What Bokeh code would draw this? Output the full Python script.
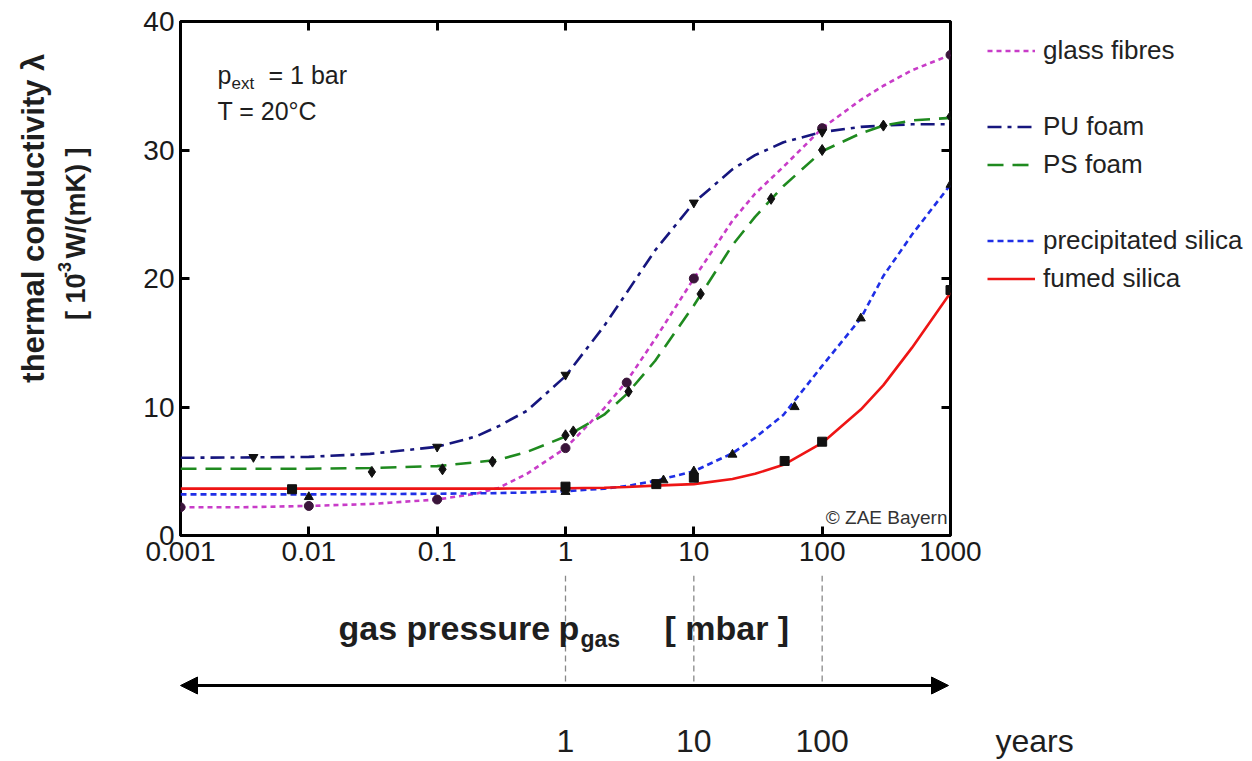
import math
from bokeh.plotting import figure
from bokeh.layouts import row, column
from bokeh.models import (Range1d, FixedTicker, NumeralTickFormatter, LogAxis, LinearAxis,
                          Label, Arrow, NormalHead, Legend, LegendItem)
from bokeh.core.properties import value
from bokeh.embed import file_html
from bokeh.resources import INLINE

# ---------------- data ----------------
pressure_grid = [0.001, 0.003, 0.01, 0.03, 0.1, 0.2, 0.3, 0.5, 1, 2, 3, 5, 10,
                 20, 30, 50, 100, 200, 300, 500, 1000]

glass_curve = [2.2, 2.2, 2.3, 2.45, 2.8, 3.25, 3.7, 4.8, 6.8, 9.9, 12.0, 15.3, 20.0,
               24.5, 26.6, 28.7, 31.7, 33.9, 35.0, 36.2, 37.4]
pu_curve = [6.05, 6.07, 6.12, 6.35, 6.9, 7.7, 8.5, 9.7, 12.4, 16.3, 18.9, 22.2, 25.9,
            28.5, 29.6, 30.6, 31.4, 31.8, 31.9, 32.0, 32.0]
ps_curve = [5.2, 5.2, 5.2, 5.25, 5.4, 5.7, 5.9, 6.5, 7.7, 9.4, 11.0, 13.6, 17.9,
            22.6, 24.8, 27.2, 29.9, 31.3, 31.9, 32.3, 32.5]
precip_curve = [3.2, 3.2, 3.2, 3.22, 3.25, 3.28, 3.3, 3.35, 3.45, 3.65, 3.85, 4.25, 5.0,
                6.4, 7.6, 9.4, 13.2, 16.9, 20.2, 23.4, 27.3]
fumed_curve = [3.65, 3.65, 3.65, 3.65, 3.65, 3.65, 3.65, 3.66, 3.68, 3.72, 3.78, 3.88, 4.0,
               4.4, 4.8, 5.5, 7.2, 9.8, 11.7, 14.6, 18.9]

glass_pts_x = [0.001, 0.01, 0.1, 1, 3, 10, 100, 1000]
glass_pts_y = [2.2, 2.3, 2.8, 6.8, 11.9, 20.0, 31.7, 37.4]
pu_pts_x = [0.0037, 0.1, 1, 10, 100]
pu_pts_y = [6.1, 6.9, 12.5, 25.9, 31.4]
ps_pts_x = [0.031, 0.11, 0.27, 1.0, 1.15, 3.1, 11.3, 40, 100, 300, 1000]
ps_pts_y = [4.95, 5.15, 5.75, 7.8, 8.1, 11.2, 18.8, 26.2, 30.0, 31.9, 32.6]
precip_pts_x = [0.01, 1, 5.8, 10, 20, 61, 200, 1000]
precip_pts_y = [3.0, 3.4, 4.3, 5.0, 6.3, 10.0, 16.9, 27.3]
fumed_pts_x = [0.0074, 1, 5.1, 10, 51, 100, 1000]
fumed_pts_y = [3.6, 3.8, 4.0, 4.5, 5.8, 7.3, 19.1]

series_names = ["glass fibres", "PU foam", "PS foam", "precipitated silica", "fumed silica"]
x_ticks = [0.001, 0.01, 0.1, 1, 10, 100, 1000]
y_ticks = [0, 10, 20, 30, 40]
year_x = [1, 10, 100]
year_labels = ["1", "10", "100"]

# ---------------- layout geometry (page pixels) ----------------
W, H = 1252, 761
FL, FR, FT, FB = 180, 950, 21, 535          # main frame
LEFT_W = 110                                 # strip holding the y title
TOP_H = 575                                  # height of the upper row
RIGHT_X0 = 985                               # where the legend strip starts
XMIN, XMAX, YMIN, YMAX = 1e-3, 1e3, 0, 40
LX0, LX1 = math.log10(XMIN), math.log10(XMAX)
BASE_K = 0.3   # correction: bokeh puts the alphabetic baseline ~0.3 em lower


def dx(px):
    return 10 ** (LX0 + (px - FL) / (FR - FL) * (LX1 - LX0))


FONT = "Liberation Sans"
TXT = "#1e1e1e"

c_glass = "#c83cc8"
c_pu = "#16167e"
c_ps = "#1f8a1f"
c_prec = "#1f2fe6"
c_fumed = "#ee1515"
styles = [
    dict(line_color=c_glass, line_width=2.6, line_dash="5 4"),
    dict(line_color=c_pu, line_width=2.6, line_dash="14 6 4 6"),
    dict(line_color=c_ps, line_width=2.6, line_dash="16 9"),
    dict(line_color=c_prec, line_width=2.6, line_dash="6 4"),
    dict(line_color=c_fumed, line_width=2.6),
]


def bare(fig):
    fig.background_fill_color = "white"
    fig.border_fill_color = "white"
    fig.outline_line_color = None
    fig.xgrid.visible = False
    fig.ygrid.visible = False
    fig.min_border = 0
    return fig


# ---------------- main chart ----------------
main_w = RIGHT_X0 - LEFT_W
p = figure(width=main_w, height=TOP_H, x_axis_type="log",
           x_range=Range1d(XMIN, XMAX), y_range=Range1d(YMIN, YMAX),
           output_backend="svg", toolbar_location=None,
           min_border_left=FL - LEFT_W, min_border_right=RIGHT_X0 - FR,
           min_border_top=FT, min_border_bottom=TOP_H - FB)
p.background_fill_color = "white"
p.border_fill_color = "white"
p.outline_line_color = "black"
p.outline_line_width = 3
p.xgrid.visible = False
p.ygrid.visible = False


def style_axis(ax, show_labels=True):
    ax.axis_line_color = None
    ax.major_tick_in = 9
    ax.major_tick_out = 0
    ax.major_tick_line_width = 3
    ax.major_tick_line_color = "black"
    ax.minor_tick_line_color = None
    ax.major_label_text_font = FONT
    ax.major_label_text_color = "#1a1a1a"
    if show_labels:
        ax.major_label_text_font_size = "28px"
        ax.major_label_standoff = 6
    else:
        ax.major_label_text_font_size = "4px"
        ax.major_label_text_alpha = 0
        ax.major_label_standoff = 0


p.xaxis.ticker = FixedTicker(ticks=x_ticks)
p.xaxis.formatter = NumeralTickFormatter(format="0.[000]")
p.yaxis.ticker = FixedTicker(ticks=y_ticks)
style_axis(p.xaxis[0])
style_axis(p.yaxis[0])

top_ax = LogAxis(ticker=FixedTicker(ticks=x_ticks))
right_ax = LinearAxis(ticker=FixedTicker(ticks=y_ticks))
style_axis(top_ax, False)
style_axis(right_ax, False)
p.add_layout(top_ax, "above")
p.add_layout(right_ax, "right")

curves = [glass_curve, pu_curve, ps_curve, precip_curve, fumed_curve]
for cv, st in zip(curves, styles):
    p.line(pressure_grid, cv, **st)

mk = dict(size=9, line_color="#111111", fill_color="#111111")
p.scatter(glass_pts_x, glass_pts_y, marker="circle", size=9,
          fill_color="#3a153a", line_color="#3a153a")
p.scatter(pu_pts_x, pu_pts_y, marker="inverted_triangle", **mk)
p.scatter(ps_pts_x, ps_pts_y, marker="diamond", size=11,
          line_color="#111111", fill_color="#111111")
p.scatter(precip_pts_x, precip_pts_y, marker="triangle", **mk)
p.scatter(fumed_pts_x, fumed_pts_y, marker="square", **mk)


def plot_y(py):
    return YMIN + (FB - py) / (FB - FT) * (YMAX - YMIN)


def add_label(text, px, py, size, bold=False, align="left", color=TXT):
    p.add_layout(Label(x=dx(px), y=plot_y(py - BASE_K * size), text=text, text_font=FONT,
                       text_font_size=f"{size}px",
                       text_font_style="bold" if bold else "normal",
                       text_align=align, text_baseline="alphabetic",
                       text_color=color))


add_label("p", 217, 81.7, 25)
add_label("ext", 231, 88, 17)
add_label("= 1 bar", 268, 81.7, 25)
add_label("T = 20°C", 217, 117.7, 25)
add_label("© ZAE Bayern", 947, 523, 19, align="right", color="#333333")

# ---------------- left strip: y title ----------------
lf = bare(figure(width=LEFT_W, height=TOP_H, x_range=Range1d(0, LEFT_W),
                 y_range=Range1d(0, TOP_H), output_backend="svg",
                 toolbar_location=None, x_axis_location=None, y_axis_location=None))


def ltext(t, px, py, size, align):
    lf.text(x=[px], y=[TOP_H - py], text=[t], angle=math.pi / 2,
            text_font=value(FONT), text_font_size=f"{size}px",
            text_font_style="bold", text_align=align, text_baseline="middle",
            text_color=TXT)


ltext("thermal conductivity λ", 33, 220, 31, "center")
ltext("[ 10", 75, 334, 27, "left")
ltext("-3", 64, 287, 18, "left")
ltext("W/(mK) ]", 75, 265, 27, "left")

# ---------------- right strip: legend ----------------
RW = W - RIGHT_X0
rf = bare(figure(width=RW, height=TOP_H, x_range=Range1d(0, RW),
                 y_range=Range1d(0, TOP_H), output_backend="svg",
                 toolbar_location=None, x_axis_location=None, y_axis_location=None))
proxies = [rf.line([0, 1], [-50, -50], **st) for st in styles]
blank = rf.line([0, 1], [-50, -50], line_alpha=0)

ROW_H, ROW_GAP, N_ROWS = 31, 7, 7
legend_h = N_ROWS * ROW_H + (N_ROWS - 1) * ROW_GAP
legend_top = 50 - ROW_H / 2
LEG_FIX = 40.5   # measured offset of bokeh's tuple placement
legend = Legend(items=[
    LegendItem(label=series_names[0], renderers=[proxies[0]]),
    LegendItem(label=" ", renderers=[blank]),
    LegendItem(label=series_names[1], renderers=[proxies[1]]),
    LegendItem(label=series_names[2], renderers=[proxies[2]]),
    LegendItem(label=" ", renderers=[blank]),
    LegendItem(label=series_names[3], renderers=[proxies[3]]),
    LegendItem(label=series_names[4], renderers=[proxies[4]]),
], location=(987 - RIGHT_X0, round(TOP_H - (legend_top + legend_h) - LEG_FIX)))
legend.padding = 0
legend.margin = 0
legend.spacing = ROW_GAP
legend.glyph_width = 48
legend.glyph_height = ROW_H
legend.label_height = ROW_H
legend.label_standoff = 8
legend.label_text_font = FONT
legend.label_text_font_size = "26px"
legend.label_text_color = "#222222"
legend.border_line_color = None
legend.background_fill_alpha = 0
rf.add_layout(legend)

# ---------------- bottom strip: x title, time arrow, years ----------------
BH = H - TOP_H
bf = bare(figure(width=W, height=BH, x_axis_type="log",
                 x_range=Range1d(dx(0), dx(W)), y_range=Range1d(0, BH),
                 output_backend="svg", toolbar_location=None,
                 x_axis_location=None, y_axis_location=None))


def by(py):
    return H - py


bf.segment(x0=year_x, y0=[by(TOP_H)] * len(year_x), x1=year_x,
           y1=[by(683)] * len(year_x), line_color="#888888", line_width=1.3,
           line_dash="6 4")
bf.add_layout(Arrow(x_start=dx(180), y_start=by(685), x_end=dx(948), y_end=by(685),
                    line_color="black", line_width=3,
                    start=NormalHead(size=17, fill_color="black", line_color="black"),
                    end=NormalHead(size=17, fill_color="black", line_color="black")))


def btext(t, px, py, size, bold=False, align="left"):
    bf.text(x=[dx(px)], y=[by(py - BASE_K * size)], text=[t], text_font=value(FONT),
            text_font_size=f"{size}px", text_font_style="bold" if bold else "normal",
            text_align=align, text_baseline="alphabetic", text_color=TXT)


btext("gas pressure", 338, 638, 34, True)
btext("p", 558, 638, 34, True)
btext("gas", 580, 645, 23, True)
btext("[ mbar ]", 664, 638, 34, True)

bf.text(x=year_x, y=[by(750 - BASE_K * 32)] * len(year_x), text=year_labels,
        text_font=value(FONT), text_font_size="32px", text_align="center",
        text_baseline="alphabetic", text_color=TXT)
btext("years", 995, 750, 32)

layout = column(row(lf, p, rf, spacing=0), bf, spacing=0)
open("out.html", "w").write(file_html(layout, INLINE))
